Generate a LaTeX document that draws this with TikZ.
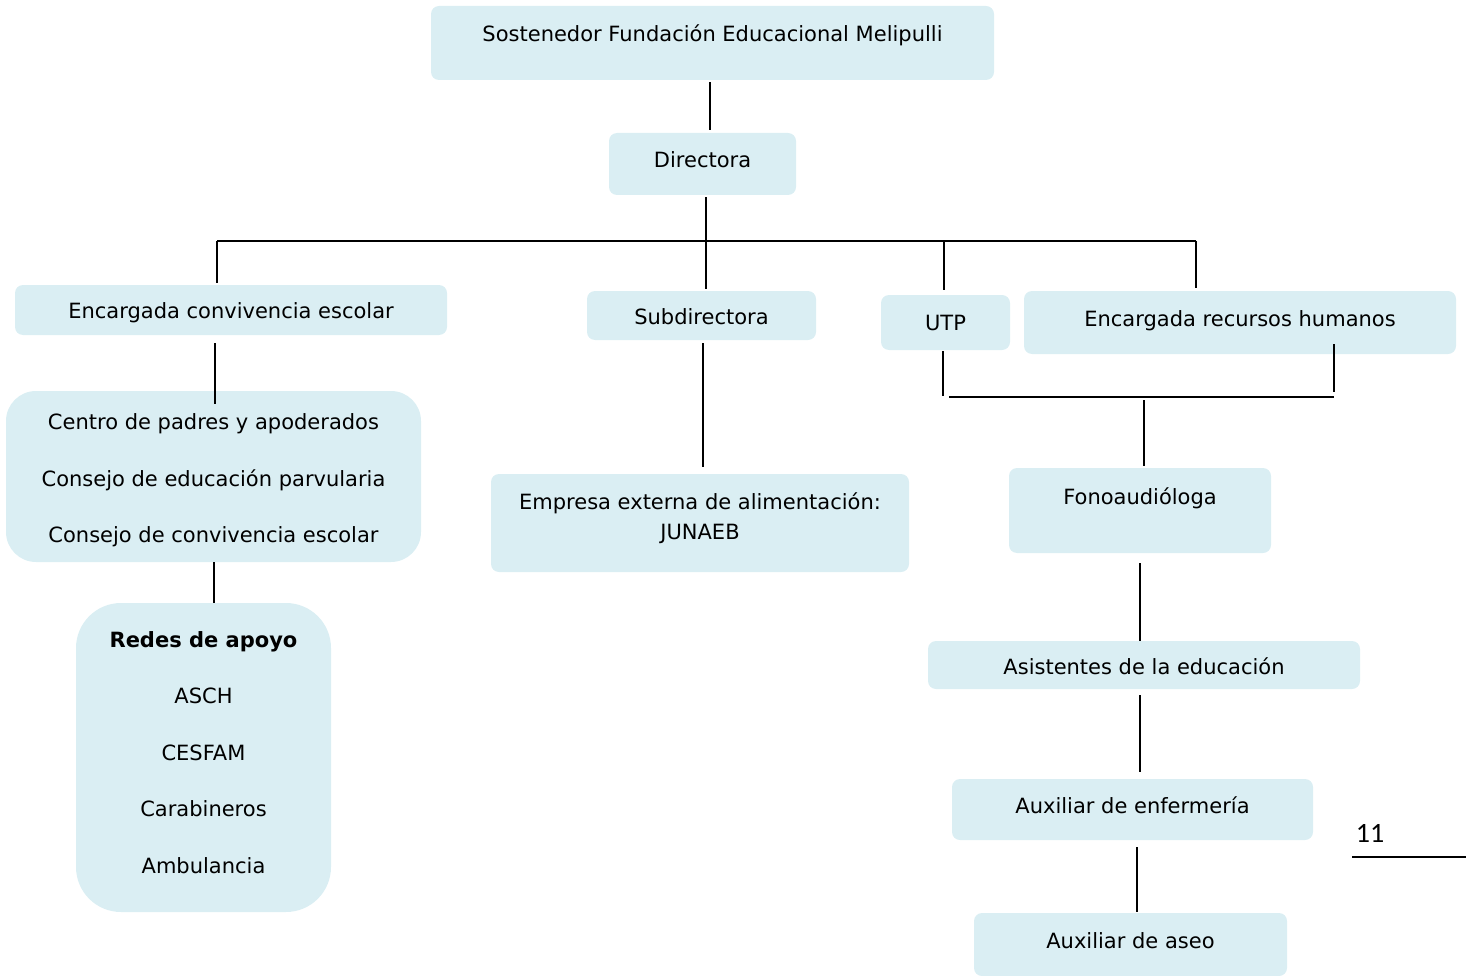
\documentclass[tikz,border=0pt]{standalone}
\usepackage{fontspec}
\setmainfont{DejaVu Sans}
\newfontfamily\pagfont{Carlito}
\usepackage{tikz}
\definecolor{celeste}{HTML}{DAEEF3}
\newcommand{\radio}{8pt}
\newcommand{\tam}{21}

\begin{document}
\begin{tikzpicture}[x=1pt,y=-1pt,
    caja/.style={fill=celeste, rounded corners=\radio, inner sep=0pt, align=center, font=\fontsize{\tam}{25}\selectfont},
    uno/.style={caja, text height=22pt, text depth=5pt},
    linea/.style={line width=1.6pt}]
    \useasboundingbox (0,0) rectangle (1466,976);
    \node[uno, minimum width=563pt, minimum height=74pt, text depth=25pt] (sost) at (712.5,43) {Sostenedor Fundación Educacional Melipulli};
    \node[uno, minimum width=187pt, minimum height=62pt, text depth=15pt] (dir) at (702.5,164) {Directora};
    \node[uno, minimum width=432pt, minimum height=50pt] (conv) at (231,310) {Encargada convivencia escolar};
    \node[uno, minimum width=229pt, minimum height=49pt] (sub) at (701.5,315.5) {Subdirectora};
    \node[uno, minimum width=129pt, minimum height=55pt, text depth=7pt] (utp) at (945.5,322.5) {UTP};
    \node[uno, minimum width=432pt, minimum height=63pt, text depth=14pt] (erh) at (1240,322.5) {Encargada recursos humanos};
    \node[caja, rounded corners=30pt, minimum width=415pt, minimum height=171pt, text height=137pt, font=\fontsize{\tam}{56.5}\selectfont] (centro) at (213.5,476.5)
        {Centro de padres y apoderados\\Consejo de educación parvularia\\Consejo de convivencia escolar};
    \node[caja, rounded corners=45pt, minimum width=255pt, minimum height=309pt, text height=232pt, font=\fontsize{\tam}{56.5}\selectfont] (redes) at (203.5,757.5)
        {\textbf{Redes de apoyo}\\ASCH\\CESFAM\\Carabineros\\Ambulancia};
    \node[caja, minimum width=418pt, minimum height=98pt, text height=36.8pt, font=\fontsize{\tam}{30}\selectfont] (emp) at (700,523)
        {Empresa externa de alimentación:\\JUNAEB};
    \node[uno, minimum width=262pt, minimum height=85pt, text depth=34pt] (fono) at (1140,510.5) {Fonoaudióloga};
    \node[uno, minimum width=432pt, minimum height=48pt, text depth=3pt] (asist) at (1144,665) {Asistentes de la educación};
    \node[uno, minimum width=361pt, minimum height=61pt, text depth=14pt] (enf) at (1132.5,809.5) {Auxiliar de enfermería};
    \node[uno, minimum width=313pt, minimum height=63pt, text depth=14pt] (aseo) at (1130.5,944.5) {Auxiliar de aseo};
    \node[font=\pagfont\fontsize{28}{32}\selectfont, inner sep=0pt] (pag) at (1370,833) {11};

    \coordinate (bl) at (217,241);
    \coordinate (bu) at (944,241);
    \coordinate (br) at (1196,241);
    \coordinate (jl) at (943,397);
    \coordinate (jr) at (1334,397);
    \coordinate (jm) at (1144,397);
    \coordinate (pl) at (1352,857);
    \coordinate (pr) at (1466,857);

    \draw[linea, shorten <=2pt, shorten >=3pt] (710,0 |- sost.south) -- (710,0 |- dir.north);
    \draw[linea, shorten <=2pt, shorten >=2pt] (706,0 |- dir.south) -- (706,0 |- sub.north);
    \draw[linea] (bl) -- (br);
    \draw[linea, shorten >=2pt] (bl) -- (bl |- conv.north);
    \draw[linea, shorten >=5pt] (bu) -- (bu |- utp.north);
    \draw[linea, shorten >=3pt] (br) -- (br |- erh.north);
    \draw[linea, shorten <=8pt, shorten >=-13pt] (215,0 |- conv.south) -- (215,0 |- centro.north);
    \draw[linea] (214,0 |- centro.south) -- (214,0 |- redes.north);
    \draw[linea, shorten <=3pt, shorten >=7pt] (703,0 |- sub.south) -- (703,0 |- emp.north);
    \draw[linea, shorten <=1pt, shorten >=1pt] (jl |- utp.south) -- (jl);
    \draw[linea, shorten <=-10pt, shorten >=5pt] (jr |- erh.south) -- (jr);
    \draw[linea, shorten <=6pt] (jl) -- (jr);
    \draw[linea, shorten <=3pt, shorten >=2pt] (jm) -- (jm |- fono.north);
    \draw[linea, shorten <=10pt] (1140,0 |- fono.south) -- (1140,0 |- asist.north);
    \draw[linea, shorten <=6pt, shorten >=7pt] (1140,0 |- asist.south) -- (1140,0 |- enf.north);
    \draw[linea, shorten <=7pt, shorten >=1pt] (1137,0 |- enf.south) -- (1137,0 |- aseo.north);
    \draw[linea] (pl) -- (pr);
\end{tikzpicture}
\end{document}
